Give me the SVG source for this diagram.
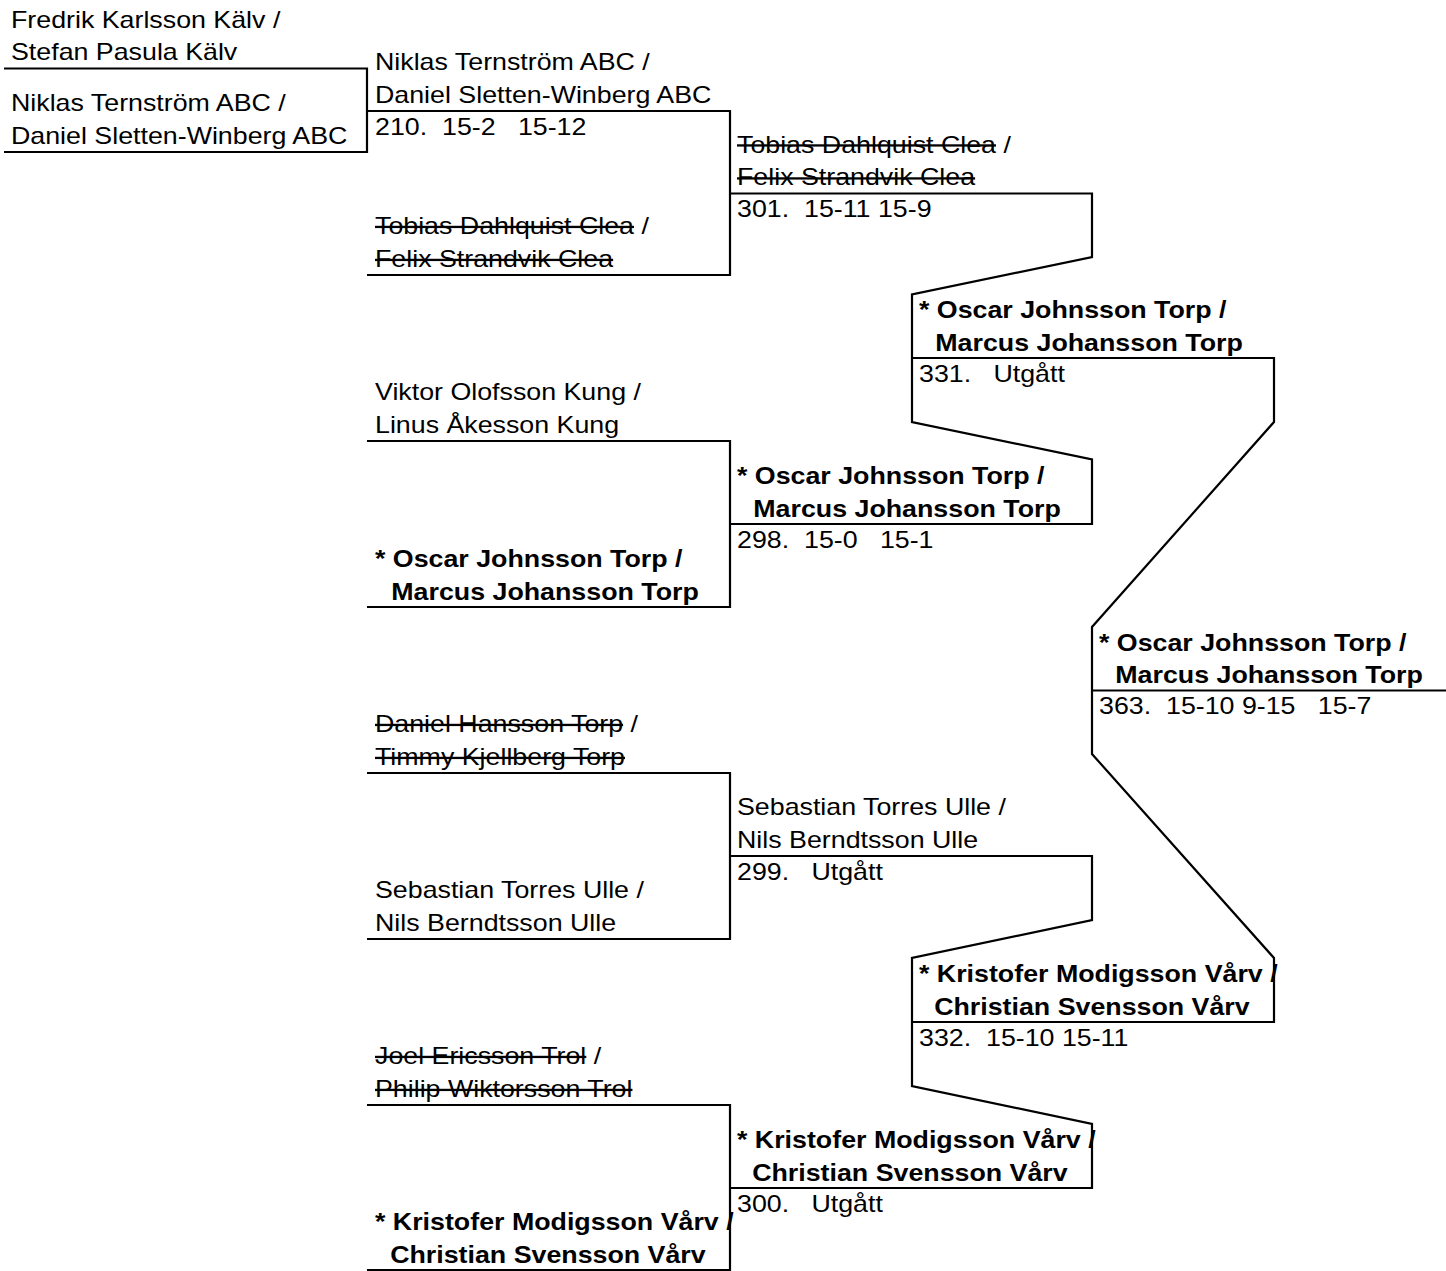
<svg xmlns="http://www.w3.org/2000/svg" width="1446" height="1271" viewBox="0 0 1446 1271">
<style>
  text { font-family: "Liberation Sans", Arial, sans-serif; font-size: 23px; fill: #000; white-space: pre; }
  .b { font-weight: bold; }
  .s { text-decoration: line-through; }
  .c path { fill: none; stroke: #000; stroke-width: 2.2; stroke-linejoin: miter; }
</style>
<rect width="1446" height="1271" fill="#fff"/>
<g class="c" id="connectors">
  <path d="M4 68.5 H367 V152 H4"/>
  <path d="M367 111 H730 V275 H367"/>
  <path d="M367 441 H730 V607 H367"/>
  <path d="M367 773 H730 V939 H367"/>
  <path d="M367 1105 H730 V1270 H367"/>
  <path d="M730 193.5 H1092 V257 L912 294.5 V422 L1092 459.5 V524 H730"/>
  <path d="M730 856 H1092 V920 L912 958 V1086 L1092 1124 V1188 H730"/>
  <path d="M912 358 H1274 V422 L1092 627 V754 L1274 958 V1022 H912"/>
  <path d="M1092 690.5 H1446"/>
</g>
<g id="e-fredrik"><text transform="translate(11 27.5) scale(1.165 1)"><tspan x="0" y="0">Fredrik Karlsson Kälv /</tspan><tspan x="0" y="33">Stefan Pasula Kälv</tspan></text></g>
<g id="e-niklas-a"><text transform="translate(11 111) scale(1.165 1)"><tspan x="0" y="0">Niklas Ternström ABC /</tspan><tspan x="0" y="33">Daniel Sletten-Winberg ABC</tspan></text></g>
<g id="m210">
  <text transform="translate(375 70) scale(1.165 1)"><tspan x="0" y="0">Niklas Ternström ABC /</tspan><tspan x="0" y="33">Daniel Sletten-Winberg ABC</tspan></text>
  <text xml:space="preserve" transform="translate(375 134.5) scale(1.165 1)">210.  15-2   15-12</text>
</g>
<g id="e-tobias-b"><text transform="translate(375 234) scale(1.165 1)"><tspan x="0" y="0"><tspan class="s">Tobias Dahlquist Clea</tspan> /</tspan><tspan x="0" y="33" class="s">Felix Strandvik Clea</tspan></text></g>
<g id="e-viktor"><text transform="translate(375 400) scale(1.165 1)"><tspan x="0" y="0">Viktor Olofsson Kung /</tspan><tspan x="0" y="33">Linus Åkesson Kung</tspan></text></g>
<g id="e-oscar-b"><text class="b" transform="translate(375 567) scale(1.165 1)"><tspan x="0" y="0">* Oscar Johnsson Torp /</tspan><tspan x="14" y="33">Marcus Johansson Torp</tspan></text></g>
<g id="e-daniel"><text transform="translate(375 732) scale(1.165 1)"><tspan x="0" y="0"><tspan class="s">Daniel Hansson Torp</tspan> /</tspan><tspan x="0" y="33" class="s">Timmy Kjellberg Torp</tspan></text></g>
<g id="e-sebastian-b"><text transform="translate(375 898) scale(1.165 1)"><tspan x="0" y="0">Sebastian Torres Ulle /</tspan><tspan x="0" y="33">Nils Berndtsson Ulle</tspan></text></g>
<g id="e-joel"><text transform="translate(375 1064) scale(1.165 1)"><tspan x="0" y="0"><tspan class="s">Joel Ericsson Trol</tspan> /</tspan><tspan x="0" y="33" class="s">Philip Wiktorsson Trol</tspan></text></g>
<g id="e-kristofer-b"><text class="b" transform="translate(375 1230) scale(1.165 1)"><tspan x="0" y="0">* Kristofer Modigsson Vårv /</tspan><tspan x="13" y="33">Christian Svensson Vårv</tspan></text></g>
<g id="m301">
  <text transform="translate(737 152.5) scale(1.165 1)"><tspan x="0" y="0"><tspan class="s">Tobias Dahlquist Clea</tspan> /</tspan><tspan x="0" y="33" class="s">Felix Strandvik Clea</tspan></text>
  <text xml:space="preserve" transform="translate(737 217) scale(1.165 1)">301.  15-11 15-9</text>
</g>
<g id="m298">
  <text class="b" transform="translate(737 484) scale(1.165 1)"><tspan x="0" y="0">* Oscar Johnsson Torp /</tspan><tspan x="14" y="33">Marcus Johansson Torp</tspan></text>
  <text xml:space="preserve" transform="translate(737 547.5) scale(1.165 1)">298.  15-0   15-1</text>
</g>
<g id="m299">
  <text transform="translate(737 815) scale(1.165 1)"><tspan x="0" y="0">Sebastian Torres Ulle /</tspan><tspan x="0" y="33">Nils Berndtsson Ulle</tspan></text>
  <text xml:space="preserve" transform="translate(737 879.5) scale(1.165 1)">299.   Utgått</text>
</g>
<g id="m300">
  <text class="b" transform="translate(737 1148) scale(1.165 1)"><tspan x="0" y="0">* Kristofer Modigsson Vårv /</tspan><tspan x="13" y="33">Christian Svensson Vårv</tspan></text>
  <text xml:space="preserve" transform="translate(737 1211.5) scale(1.165 1)">300.   Utgått</text>
</g>
<g id="m331">
  <text class="b" transform="translate(919 318) scale(1.165 1)"><tspan x="0" y="0">* Oscar Johnsson Torp /</tspan><tspan x="14" y="33">Marcus Johansson Torp</tspan></text>
  <text xml:space="preserve" transform="translate(919 381.5) scale(1.165 1)">331.   Utgått</text>
</g>
<g id="m332">
  <text class="b" transform="translate(919 982) scale(1.165 1)"><tspan x="0" y="0">* Kristofer Modigsson Vårv /</tspan><tspan x="13" y="33">Christian Svensson Vårv</tspan></text>
  <text xml:space="preserve" transform="translate(919 1045.5) scale(1.165 1)">332.  15-10 15-11</text>
</g>
<g id="m363">
  <text class="b" transform="translate(1099 650.5) scale(1.165 1)"><tspan x="0" y="0">* Oscar Johnsson Torp /</tspan><tspan x="14" y="33">Marcus Johansson Torp</tspan></text>
  <text xml:space="preserve" transform="translate(1099 714) scale(1.165 1)">363.  15-10 9-15   15-7</text>
</g>
</svg>
